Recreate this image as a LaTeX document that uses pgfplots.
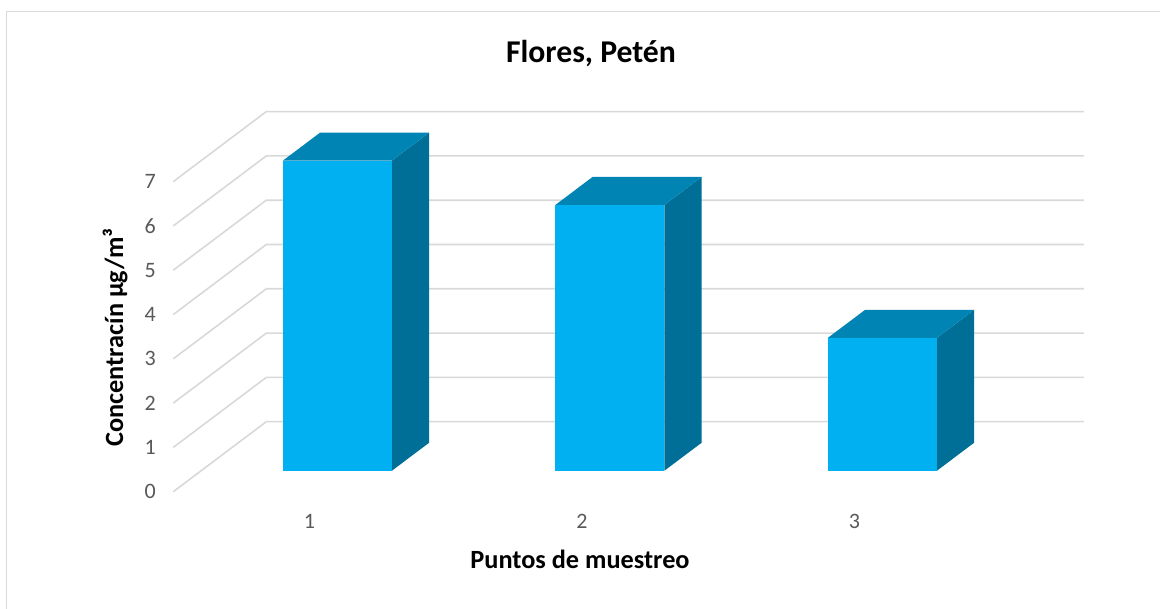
\documentclass[border=0pt]{standalone}
\usepackage{pgfplots}
\pgfplotsset{compat=1.18}
\usepackage{pgfplotstable}
\usepackage{fontspec}
\setmainfont{Carlito}

\definecolor{barfront}{HTML}{00B0F0}
\definecolor{bartop}{HTML}{0084B4}
\definecolor{barside}{HTML}{006F98}
\definecolor{gridgray}{HTML}{D9D9D9}
\definecolor{ticktext}{HTML}{595959}

% concentration at each sampling point
\pgfplotstableread{
pt val
1  7
2  6
3  3
}\muestras

% oblique depth axis, in data units
\def\dX{0.3413}
\def\dY{1.580}
\def\fA{0.30}  % depth of the bars' front faces
\def\fB{0.70}  % depth of the bars' back faces
\def\hw{0.2}   % half bar width

\begin{document}
\begin{tikzpicture}
\useasboundingbox (0,0) rectangle (1160pt,609pt);
\clip (0,0) rectangle (1160pt,609pt);
\fill[white] (0,0) rectangle (1160pt,609pt);
\draw[gridgray, line width=1.5pt] (6.5pt,-10pt) -- (6.5pt,597.3pt) -- (1170pt,597.3pt);

\begin{axis}[
  at={(173.3pt,117.3pt)}, anchor=south west,
  x=272.5pt, y=44.3pt,
  xmin=0.5, xmax=3.8413, ymin=0, ymax=8.58,
  axis line style={draw=none},
  major tick length=0pt,
  xtick={1,2,3}, ytick={0,...,7},
  tick label style={font=\fontsize{22}{25}\selectfont, text=ticktext},
  yticklabel style={xshift=-14pt},
  xticklabel style={yshift=-19pt},
  /pgf/number format/assume math mode=true,
  clip=false,
]
% back wall and side wall grid
\pgfmathsetmacro\xb{0.5+\dX}
\pgfmathsetmacro\xc{3.5+\dX}
\pgfplotsforeachungrouped \k in {0,...,7}{
  \pgfmathsetmacro\ka{\k+\dY}
  \edef\cmd{\noexpand\addplot[gridgray, line width=1.6pt] coordinates {(0.5,\k) (\xb,\ka) (\xc,\ka)};}
  \cmd
}
% 3-D bars: side, top and front faces
\pgfplotstablegetrowsof{\muestras}
\pgfmathtruncatemacro\nrows{\pgfplotsretval-1}
\pgfplotsforeachungrouped \r in {0,...,\nrows}{
  \pgfplotstablegetelem{\r}{pt}\of\muestras \let\cx\pgfplotsretval
  \pgfplotstablegetelem{\r}{val}\of\muestras \let\cv\pgfplotsretval
  \pgfmathsetmacro\xl{\cx-\hw+\fA*\dX}
  \pgfmathsetmacro\xr{\cx+\hw+\fA*\dX}
  \pgfmathsetmacro\yb{\fA*\dY}
  \pgfmathsetmacro\yt{\cv+\fA*\dY}
  \pgfmathsetmacro\sx{(\fB-\fA)*\dX}
  \pgfmathsetmacro\sy{(\fB-\fA)*\dY}
  \pgfmathsetmacro\xlb{\xl+\sx}
  \pgfmathsetmacro\xrb{\xr+\sx}
  \pgfmathsetmacro\ybb{\yb+\sy}
  \pgfmathsetmacro\ytb{\yt+\sy}
  \edef\cmd{%
    \noexpand\addplot[fill=barside, draw=none] coordinates {(\xr,\yb) (\xrb,\ybb) (\xrb,\ytb) (\xr,\yt)};
    \noexpand\addplot[fill=bartop, draw=none] coordinates {(\xl,\yt) (\xr,\yt) (\xrb,\ytb) (\xlb,\ytb)};
    \noexpand\addplot[fill=barfront, draw=none] coordinates {(\xl,\yb) (\xr,\yb) (\xr,\yt) (\xl,\yt)};
  }%
  \cmd
}
\end{axis}

\node[anchor=base, font=\bfseries\fontsize{31.7}{38}\selectfont] at (591pt,546pt) {Flores, Petén};
\node[anchor=base, font=\bfseries\fontsize{26.3}{31}\selectfont] at (580pt,40.7pt) {Puntos de muestreo};
\node[anchor=base, rotate=90, font=\bfseries\fontsize{26.3}{31}\selectfont] at (123pt,271.5pt) {Concentracín µg/m³};
\end{tikzpicture}
\end{document}
